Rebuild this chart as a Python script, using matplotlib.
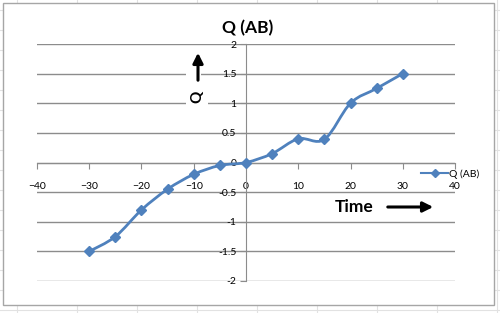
import matplotlib
matplotlib.use("Agg")
import matplotlib.pyplot as plt
import numpy as np
from matplotlib.lines import Line2D
from matplotlib.patches import PathPatch, Rectangle, FancyArrowPatch
from matplotlib.path import Path

plt.rcParams["font.family"] = ["Lato", "DejaVu Sans"]

time = [-30, -25, -20, -15, -10, -5, 0, 5, 10, 15, 20, 25, 30]
q_ab = [-1.5, -1.25, -0.8, -0.45, -0.2, -0.05, 0.0, 0.15, 0.4, 0.39, 1.0, 1.25, 1.5]
x_ticks = [-40, -30, -20, -10, 0, 10, 20, 30, 40]
y_ticks = [-2, -1.5, -1, -0.5, 0, 0.5, 1, 1.5, 2]
y_tick_labels = ["-2", "-1.5", "-1", "-0.5", "0", "0.5", "1", "1.5", "2"]

LINE = "#4F81BD"
W, H = 500, 313


def fx(px):
    return px / W


def fy(py):
    return 1 - py / H


def smooth_path(xs, ys):
    # Excel-like smoothed line: Catmull-Rom segments as cubic Beziers
    pts = np.column_stack([xs, ys]).astype(float)
    verts = [pts[0]]
    codes = [Path.MOVETO]
    n = len(pts)
    for i in range(n - 1):
        p0 = pts[i - 1] if i > 0 else pts[i]
        p1 = pts[i]
        p2 = pts[i + 1]
        p3 = pts[i + 2] if i + 2 < n else pts[i + 1]
        c1 = p1 + (p2 - p0) / 6
        c2 = p2 - (p3 - p1) / 6
        verts += [c1, c2, p2]
        codes += [Path.CURVE4] * 3
    return Path(verts, codes)


fig = plt.figure(figsize=(5, 3.13), dpi=100)

# spreadsheet cell grid behind the chart
for px in range(17, 500, 60):
    fig.add_artist(Line2D([fx(px), fx(px)], [0, 1], color="#e2e2e2", lw=0.8, zorder=-2))
for py in range(10, 313, 20):
    fig.add_artist(Line2D([0, 1], [fy(py), fy(py)], color="#e2e2e2", lw=0.8, zorder=-2))
fig.add_artist(Rectangle((fx(3), fy(305)), fx(491), 302 / H, facecolor="white",
                         edgecolor="#a6a6a6", lw=1, zorder=-1))

ax = fig.add_axes([fx(37), fy(281), fx(418), 237 / H])
ax.set_zorder(1)
ax.set_facecolor("none")
ax.set_xlim(-40, 40)
ax.set_ylim(-2, 2)
ax.set_xticks(x_ticks)
ax.set_yticks(y_ticks)
ax.set_yticklabels(y_tick_labels)
ax.yaxis.grid(True, color="#8c8c8c", lw=1)
ax.set_axisbelow(True)
for side in ["top", "right"]:
    ax.spines[side].set_visible(False)
ax.spines["left"].set_position(("data", 0))
ax.spines["bottom"].set_position(("data", 0))
for side in ["left", "bottom"]:
    ax.spines[side].set_color("#8c8c8c")
ax.tick_params(axis="x", length=4, pad=10, labelsize=7.5, color="#8c8c8c")
ax.tick_params(axis="y", length=4, pad=3, labelsize=7.5, color="#8c8c8c")

ax.add_patch(PathPatch(smooth_path(time, q_ab), facecolor="none", edgecolor=LINE,
                       lw=2, zorder=3, capstyle="round", joinstyle="round"))
ax.plot(time, q_ab, linestyle="none", marker="D", markersize=5, color=LINE, zorder=4)

handle = Line2D([], [], color=LINE, lw=1.5, marker="D", markersize=4)
fig.legend([handle], ["Q (AB)"], loc="center left", bbox_to_anchor=(fx(421), fy(174)),
           frameon=False, fontsize=7.5, handlelength=2.6, handletextpad=0.05,
           borderpad=0, borderaxespad=0)

fig.text(fx(248), fy(28), "Q (AB)", ha="center", va="center", fontsize=12.5, fontweight="bold")

# text boxes for the axis hints (white background hides gridlines)
fig.add_artist(Rectangle((fx(186), fy(86)), fx(15), 34 / H, facecolor="white",
                         edgecolor="none", zorder=2))
fig.text(fx(197), fy(97), "Q", ha="center", va="center", fontsize=11, fontweight="bold", rotation=90,
         bbox=dict(facecolor="white", edgecolor="none", pad=2.5))
fig.text(fx(354), fy(207), "Time", ha="center", va="center", fontsize=12.5, fontweight="bold")

fig.add_artist(FancyArrowPatch((fx(198), fy(83)), (fx(198), fy(50)), transform=fig.transFigure,
                               arrowstyle="-|>,head_length=6,head_width=3", color="black", lw=2.2,
                               zorder=3))
fig.add_artist(FancyArrowPatch((fx(385), fy(207)), (fx(436), fy(207)), transform=fig.transFigure,
                               arrowstyle="-|>,head_length=6,head_width=3", color="black", lw=2.2,
                               zorder=3))

fig.savefig("out.png", dpi=100)
